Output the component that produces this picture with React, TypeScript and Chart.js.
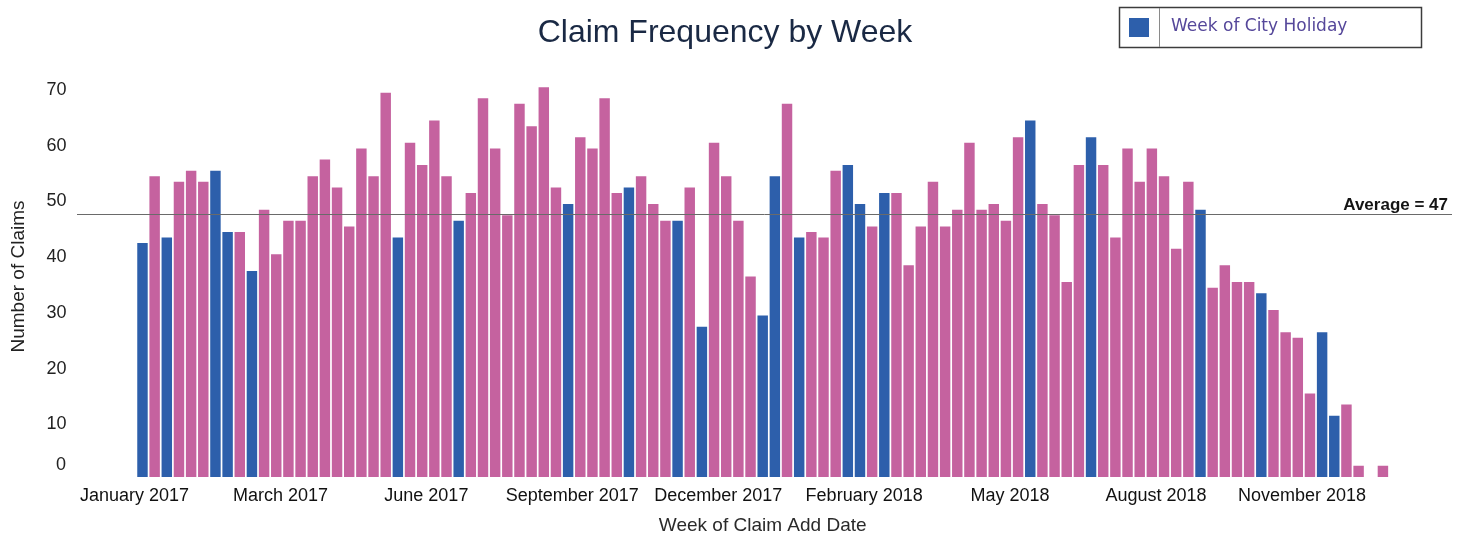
import React, { useEffect, useRef } from 'react';
import { Chart, registerables } from 'chart.js';

Chart.register(...registerables);

// Weekly claim counts, Jan 2017 – Dec 2018 (one entry per week)
const weekValues: number[] = [
  42, 54, 43, 53, 55, 53, 55, 44, 44, 37,
  48, 40, 46, 46, 54, 57, 52, 45, 59, 54,
  69, 43, 60, 56, 64, 54, 46, 51, 68, 59,
  47, 67, 63, 70, 52, 49, 61, 59, 68, 51,
  52, 54, 49, 46, 46, 52, 27, 60, 54, 46,
  36, 29, 54, 67, 43, 44, 43, 55, 56, 49,
  45, 51, 51, 38, 45, 53, 45, 48, 60, 48,
  49, 46, 61, 64, 49, 47, 35, 56, 61, 56,
  43, 59, 53, 59, 54, 41, 53, 48, 34, 38,
  35, 35, 33, 30, 26, 25, 15, 26, 11, 13,
  2, 0, 2,
];

// 1-based week numbers that contain a city holiday
const holidayWeeks: number[] = [1, 3, 7, 8, 10, 22, 27, 36, 41, 45, 47, 52, 53, 55, 59, 60, 62, 74, 79, 88, 93, 98, 99];

// Axis labels and the weeks (1-based) where they appear
const monthLabels: string[] = [
  'January 2017', 'March 2017', 'June 2017', 'September 2017', 'December 2017',
  'February 2018', 'May 2018', 'August 2018', 'November 2018',
];
const monthLabelWeeks: number[] = [1, 13, 25, 37, 49, 61, 73, 85, 97];

const averageClaims = 47;

const PINK = '#c5629f';
const BLUE = '#2d5fab';
const FONT = '"Liberation Sans", Arial, Helvetica, sans-serif';

const categoryLabels: string[] = weekValues.map((_, i) => {
  const k = monthLabelWeeks.indexOf(i + 1);
  return k >= 0 ? monthLabels[k] : '';
});
const barColors: string[] = weekValues.map((_, i) => (holidayWeeks.includes(i + 1) ? BLUE : PINK));

const decorPlugin = {
  id: 'decor',
  afterDatasetsDraw(chart: any) {
    const { ctx } = chart;
    const y = chart.scales.y;
    const ay = Math.round(y.getPixelForValue(averageClaims)) - 0.5;
    ctx.save();
    // average line
    ctx.strokeStyle = '#6a6a6a';
    ctx.lineWidth = 1;
    ctx.beginPath();
    ctx.moveTo(77, ay);
    ctx.lineTo(1452, ay);
    ctx.stroke();
    ctx.font = `bold 17px ${FONT}`;
    ctx.fillStyle = '#151515';
    ctx.textAlign = 'right';
    ctx.textBaseline = 'alphabetic';
    ctx.fillText(`Average = ${averageClaims}`, 1448, ay - 5);
    // zero tick label (sits a little above the baseline in the original)
    ctx.font = `18px ${FONT}`;
    ctx.fillStyle = '#222';
    ctx.textAlign = 'right';
    ctx.textBaseline = 'middle';
    ctx.fillText('0', 66, y.getPixelForValue(0) - 12);
    // title
    ctx.font = `32px ${FONT}`;
    ctx.fillStyle = '#1a2944';
    ctx.textAlign = 'center';
    ctx.textBaseline = 'middle';
    ctx.fillText('Claim Frequency by Week', 725, 33);
    // legend box
    ctx.strokeStyle = '#3c3c3c';
    ctx.lineWidth = 1.5;
    ctx.strokeRect(1119.5, 7.5, 302, 40);
    ctx.strokeStyle = '#8a8a8a';
    ctx.lineWidth = 1;
    ctx.beginPath();
    ctx.moveTo(1159.5, 8);
    ctx.lineTo(1159.5, 47);
    ctx.stroke();
    ctx.fillStyle = BLUE;
    ctx.fillRect(1129, 18, 20, 19);
    ctx.font = `17px "DejaVu Sans", Verdana, sans-serif`;
    ctx.fillStyle = '#55479a';
    ctx.textAlign = 'left';
    ctx.textBaseline = 'middle';
    ctx.fillText('Week of City Holiday', 1171, 27);
    ctx.restore();
  },
};

export default function App() {
  const canvasRef = useRef<HTMLCanvasElement | null>(null);

  useEffect(() => {
    const canvas = canvasRef.current;
    if (!canvas) return;
    Chart.defaults.font.family = FONT;
    const chart = new Chart(canvas, {
      type: 'bar',
      data: {
        labels: categoryLabels,
        datasets: [
          {
            label: 'Number of Claims',
            data: weekValues,
            backgroundColor: barColors,
            borderWidth: 0,
            barPercentage: 0.86,
            categoryPercentage: 1,
          },
        ],
      },
      options: {
        responsive: false,
        animation: false,
        devicePixelRatio: 1,
        layout: { padding: { top: 76, left: 0, right: 74, bottom: 0 } },
        plugins: {
          legend: { display: false },
          title: { display: false },
          tooltip: { enabled: false },
        },
        scales: {
          x: {
            grid: { display: false, drawTicks: false },
            border: { display: false },
            ticks: {
              autoSkip: false,
              maxRotation: 0,
              minRotation: 0,
              padding: 8,
              labelOffset: -8,
              color: '#111',
              font: { size: 18, family: FONT },
            },
            title: {
              display: true,
              text: 'Week of Claim Add Date',
              color: '#2a2a2a',
              font: { size: 19, family: FONT },
              padding: { top: 0, bottom: 3 },
            },
            afterFit: (s: any) => {
              s.height = 63;
              s.paddingLeft = 0;
              s.paddingRight = 0;
            },
          },
          y: {
            min: 0,
            max: 72,
            grid: { display: false, drawTicks: false },
            border: { display: false },
            ticks: {
              stepSize: 10,
              includeBounds: false,
              padding: 70,
              labelOffset: 3,
              color: '#222',
              font: { size: 18, family: FONT },
              callback: (v: any) => (Number(v) === 0 ? '' : String(v)),
            },
            title: {
              display: true,
              text: 'Number of Claims',
              color: '#222',
              font: { size: 19, family: FONT },
              padding: { top: 7, bottom: 0 },
            },
            afterFit: (s: any) => {
              s.width = 136.4;
              s.paddingTop = 0;
              s.paddingBottom = 0;
            },
          },
        },
      },
      plugins: [decorPlugin],
    });
    return () => chart.destroy();
  }, []);

  return (
    <div style={{ position: 'fixed', left: 0, top: 0, width: 1463, height: 540, background: '#fff' }}>
      <canvas ref={canvasRef} width={1463} height={540} style={{ display: 'block' }} />
    </div>
  );
}
